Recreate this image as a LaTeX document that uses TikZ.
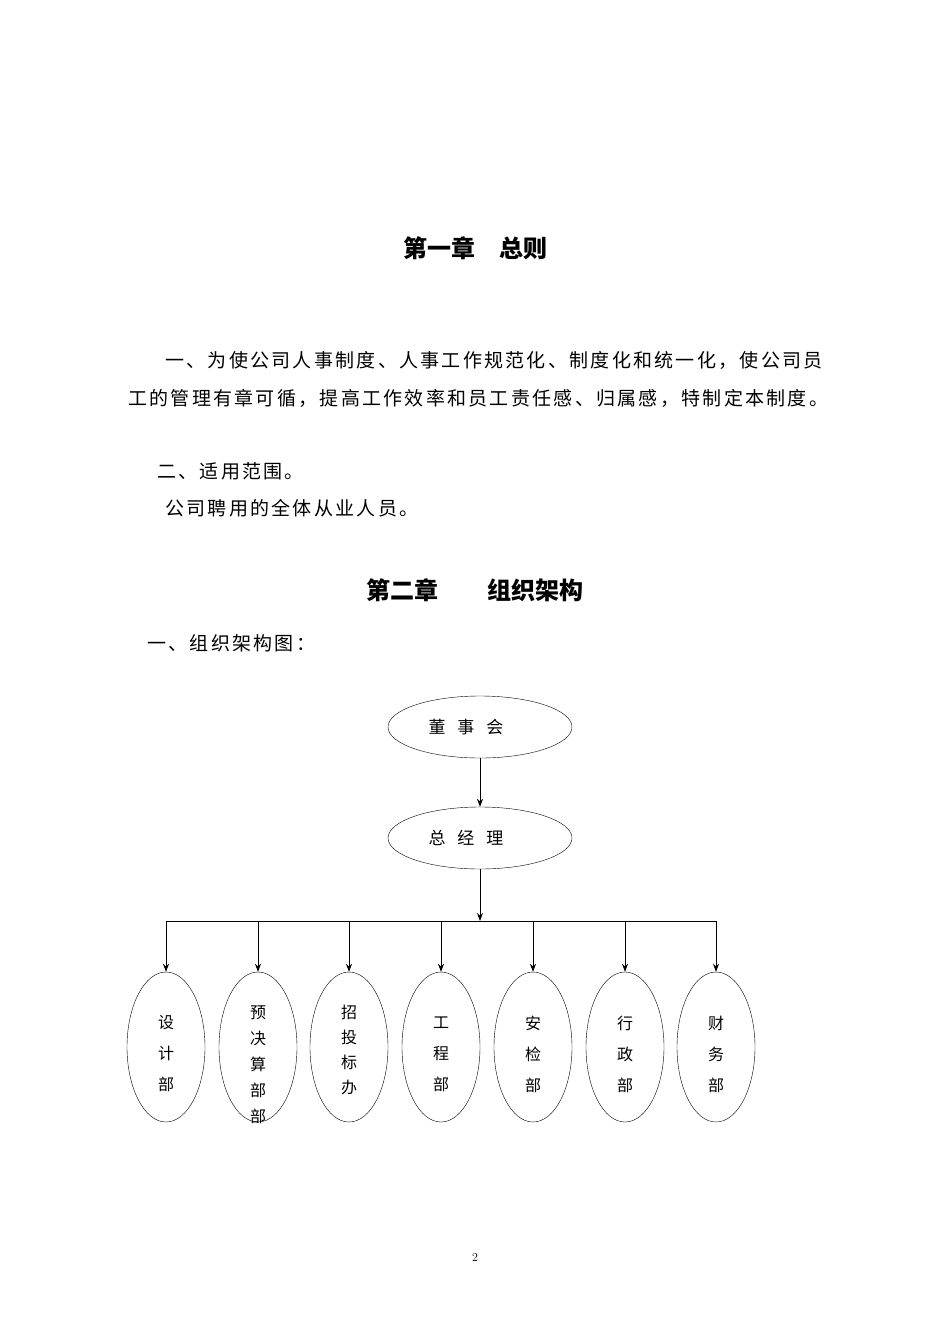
\documentclass[tikz,border=0pt]{standalone}
\usepackage{fontspec}
\newfontfamily\cjk{Noto Sans CJK SC}
\newfontfamily\cjksp[LetterSpace=12]{Noto Sans CJK SC}
\usetikzlibrary{arrows.meta,shapes.geometric}
\begin{document}
\begin{tikzpicture}[x=1pt,y=-1pt,
  txt/.style={font=\cjksp\fontsize{19}{22}\selectfont,inner sep=0,anchor=west},
  head/.style={font=\cjk\bfseries\fontsize{24}{28}\selectfont,inner sep=0},
  top/.style={draw,ellipse,minimum width=184pt,minimum height=62pt,inner sep=0,font=\cjk\fontsize{17}{20}\selectfont},
  dept/.style={draw,ellipse,minimum width=78pt,minimum height=150pt,inner sep=0,align=center,font=\cjk\fontsize{16}{31}\selectfont},
  arr/.style={-{Stealth[length=8pt,width=6pt]},line width=0.8pt},
  ln/.style={line width=0.8pt}]
\useasboundingbox (0,0) rectangle (950,1344);
\node[head] (h1) at (475,248) {第一章\hspace{24pt}总则};
\node[txt] (p1) at (165,360) {一、为使公司人事制度、人事工作规范化、制度化和统一化，使公司员};
\node[txt] (p2) at (128,398) {工的管理有章可循，提高工作效率和员工责任感、归属感，特制定本制度。};
\node[txt] (p3) at (157,471) {二、适用范围。};
\node[txt] (p4) at (165,508) {公司聘用的全体从业人员。};
\node[head] (h2) at (475,590) {第二章\hspace{50pt}组织架构};
\node[txt] (p5) at (147,643) {一、组织架构图：};
\node[top] (a) at (480,727) {\hspace*{-28pt}董\hspace{12pt}事\hspace{12pt}会};
\node[top] (b) at (480,838) {\hspace*{-28pt}总\hspace{12pt}经\hspace{12pt}理};
\draw[arr] (a) -- (b);
\coordinate (j) at (480,921);
\draw[arr] (b) -- (j);
\coordinate (l) at (166,921);
\coordinate (r) at (716,921);
\draw[ln] (l) -- (r);
\foreach \n/\x/\t in {d1/166/{设\\计\\部},d4/441/{工\\程\\部},d5/533/{安\\检\\部},d6/625/{行\\政\\部},d7/716/{财\\务\\部}}{
  \node[dept] (\n) at (\x,1047) {};
  \node[inner sep=0,align=center,font=\cjk\fontsize{16}{31}\selectfont] (\n t) at (\x,1054) {\t};
  \coordinate (t\n) at (\x,921);
  \draw[arr] (t\n) -- (\n.north);
}
\node[dept] (d3) at (349,1047) {};
\node[inner sep=0,align=center,font=\cjk\fontsize{16}{25}\selectfont] (d3t) at (349,1050) {招\\投\\标\\办};
\coordinate (td3) at (349,921);
\draw[arr] (td3) -- (d3.north);
\node[dept] (d2) at (258,1047) {};
\node[inner sep=0,align=center,font=\cjk\fontsize{16}{26}\selectfont] (d2t) at (258,1065) {预\\决\\算\\部\\部};
\coordinate (td2) at (258,921);
\draw[arr] (td2) -- (d2.north);
\node[font=\fontsize{12}{14}\selectfont] (pg) at (475,1257) {2};
\end{tikzpicture}
\end{document}
